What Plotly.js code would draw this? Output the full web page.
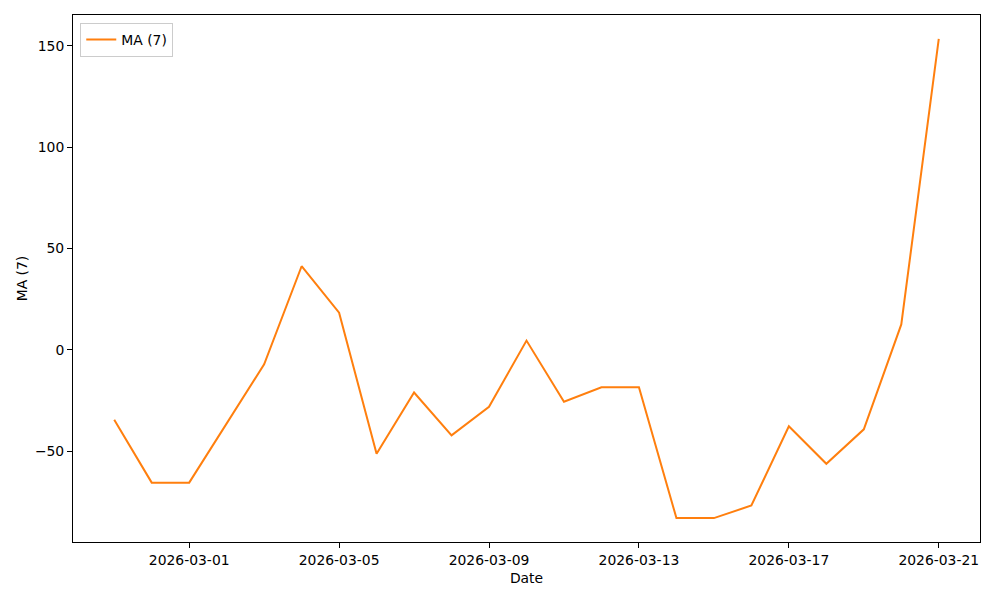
<!DOCTYPE html>
<html>
<head>
<meta charset="utf-8">
<script src="https://cdn.plot.ly/plotly-3.0.1.min.js"></script>
<style>html,body{margin:0;padding:0;background:#fff;}#chart{width:1000px;height:600px;}</style>
</head>
<body>
<div id="chart"></div>
<script>
const dates = ["2026-02-27","2026-02-28","2026-03-01","2026-03-02","2026-03-03","2026-03-04","2026-03-05","2026-03-06","2026-03-07","2026-03-08","2026-03-09","2026-03-10","2026-03-11","2026-03-12","2026-03-13","2026-03-14","2026-03-15","2026-03-16","2026-03-17","2026-03-18","2026-03-19","2026-03-20","2026-03-21"];
const maValues = [-34.6,-65.6,-65.6,-36.4,-7.2,41.2,18.3,-51.3,-21.1,-42.3,-28.2,4.5,-25.7,-18.5,-18.5,-83.1,-83.1,-76.9,-37.8,-56.3,-39.3,12.5,153.4];
const seriesName = "MA (7)";
const xTitle = "Date";
const yTitle = "MA (7)";

const font = {family: "DejaVu Sans, sans-serif", size: 13.9, color: "#000"};
const trace = {
  x: dates, y: maValues, type: "scatter", mode: "lines", name: seriesName,
  line: {color: "#ff7f0e", width: 2}
};
const layout = {
  width: 1000, height: 600,
  margin: {l: 73, r: 20, t: 15, b: 58},
  paper_bgcolor: "#fff", plot_bgcolor: "#fff",
  font: font,
  showlegend: true,
  legend: {x: 0.008, y: 0.985, xanchor: "left", yanchor: "top", bordercolor: "#cccccc", borderwidth: 1, bgcolor: "rgba(255,255,255,0.8)", font: font, itemwidth: 30},
  xaxis: {
    type: "date",
    range: ["2026-02-25 21:36", "2026-03-22 02:24"],
    tick0: "2026-03-01", dtick: 4 * 86400000, tickformat: "%Y-%m-%d",
    showgrid: false, zeroline: false,
    showline: true, mirror: true, linecolor: "#000", linewidth: 1,
    ticks: "outside", ticklen: 5, tickcolor: "#000", tickwidth: 1,
    title: {text: xTitle, font: font, standoff: 6}
  },
  yaxis: {
    range: [-94.9, 165.2],
    tick0: 0, dtick: 50,
    showgrid: false, zeroline: false,
    showline: true, mirror: true, linecolor: "#000", linewidth: 1,
    ticks: "outside", ticklen: 5, tickcolor: "#000", tickwidth: 1,
    title: {text: yTitle, font: font, standoff: 4}
  }
};
Plotly.newPlot("chart", [trace], layout, {displayModeBar: false, staticPlot: true});
</script>
</body>
</html>
